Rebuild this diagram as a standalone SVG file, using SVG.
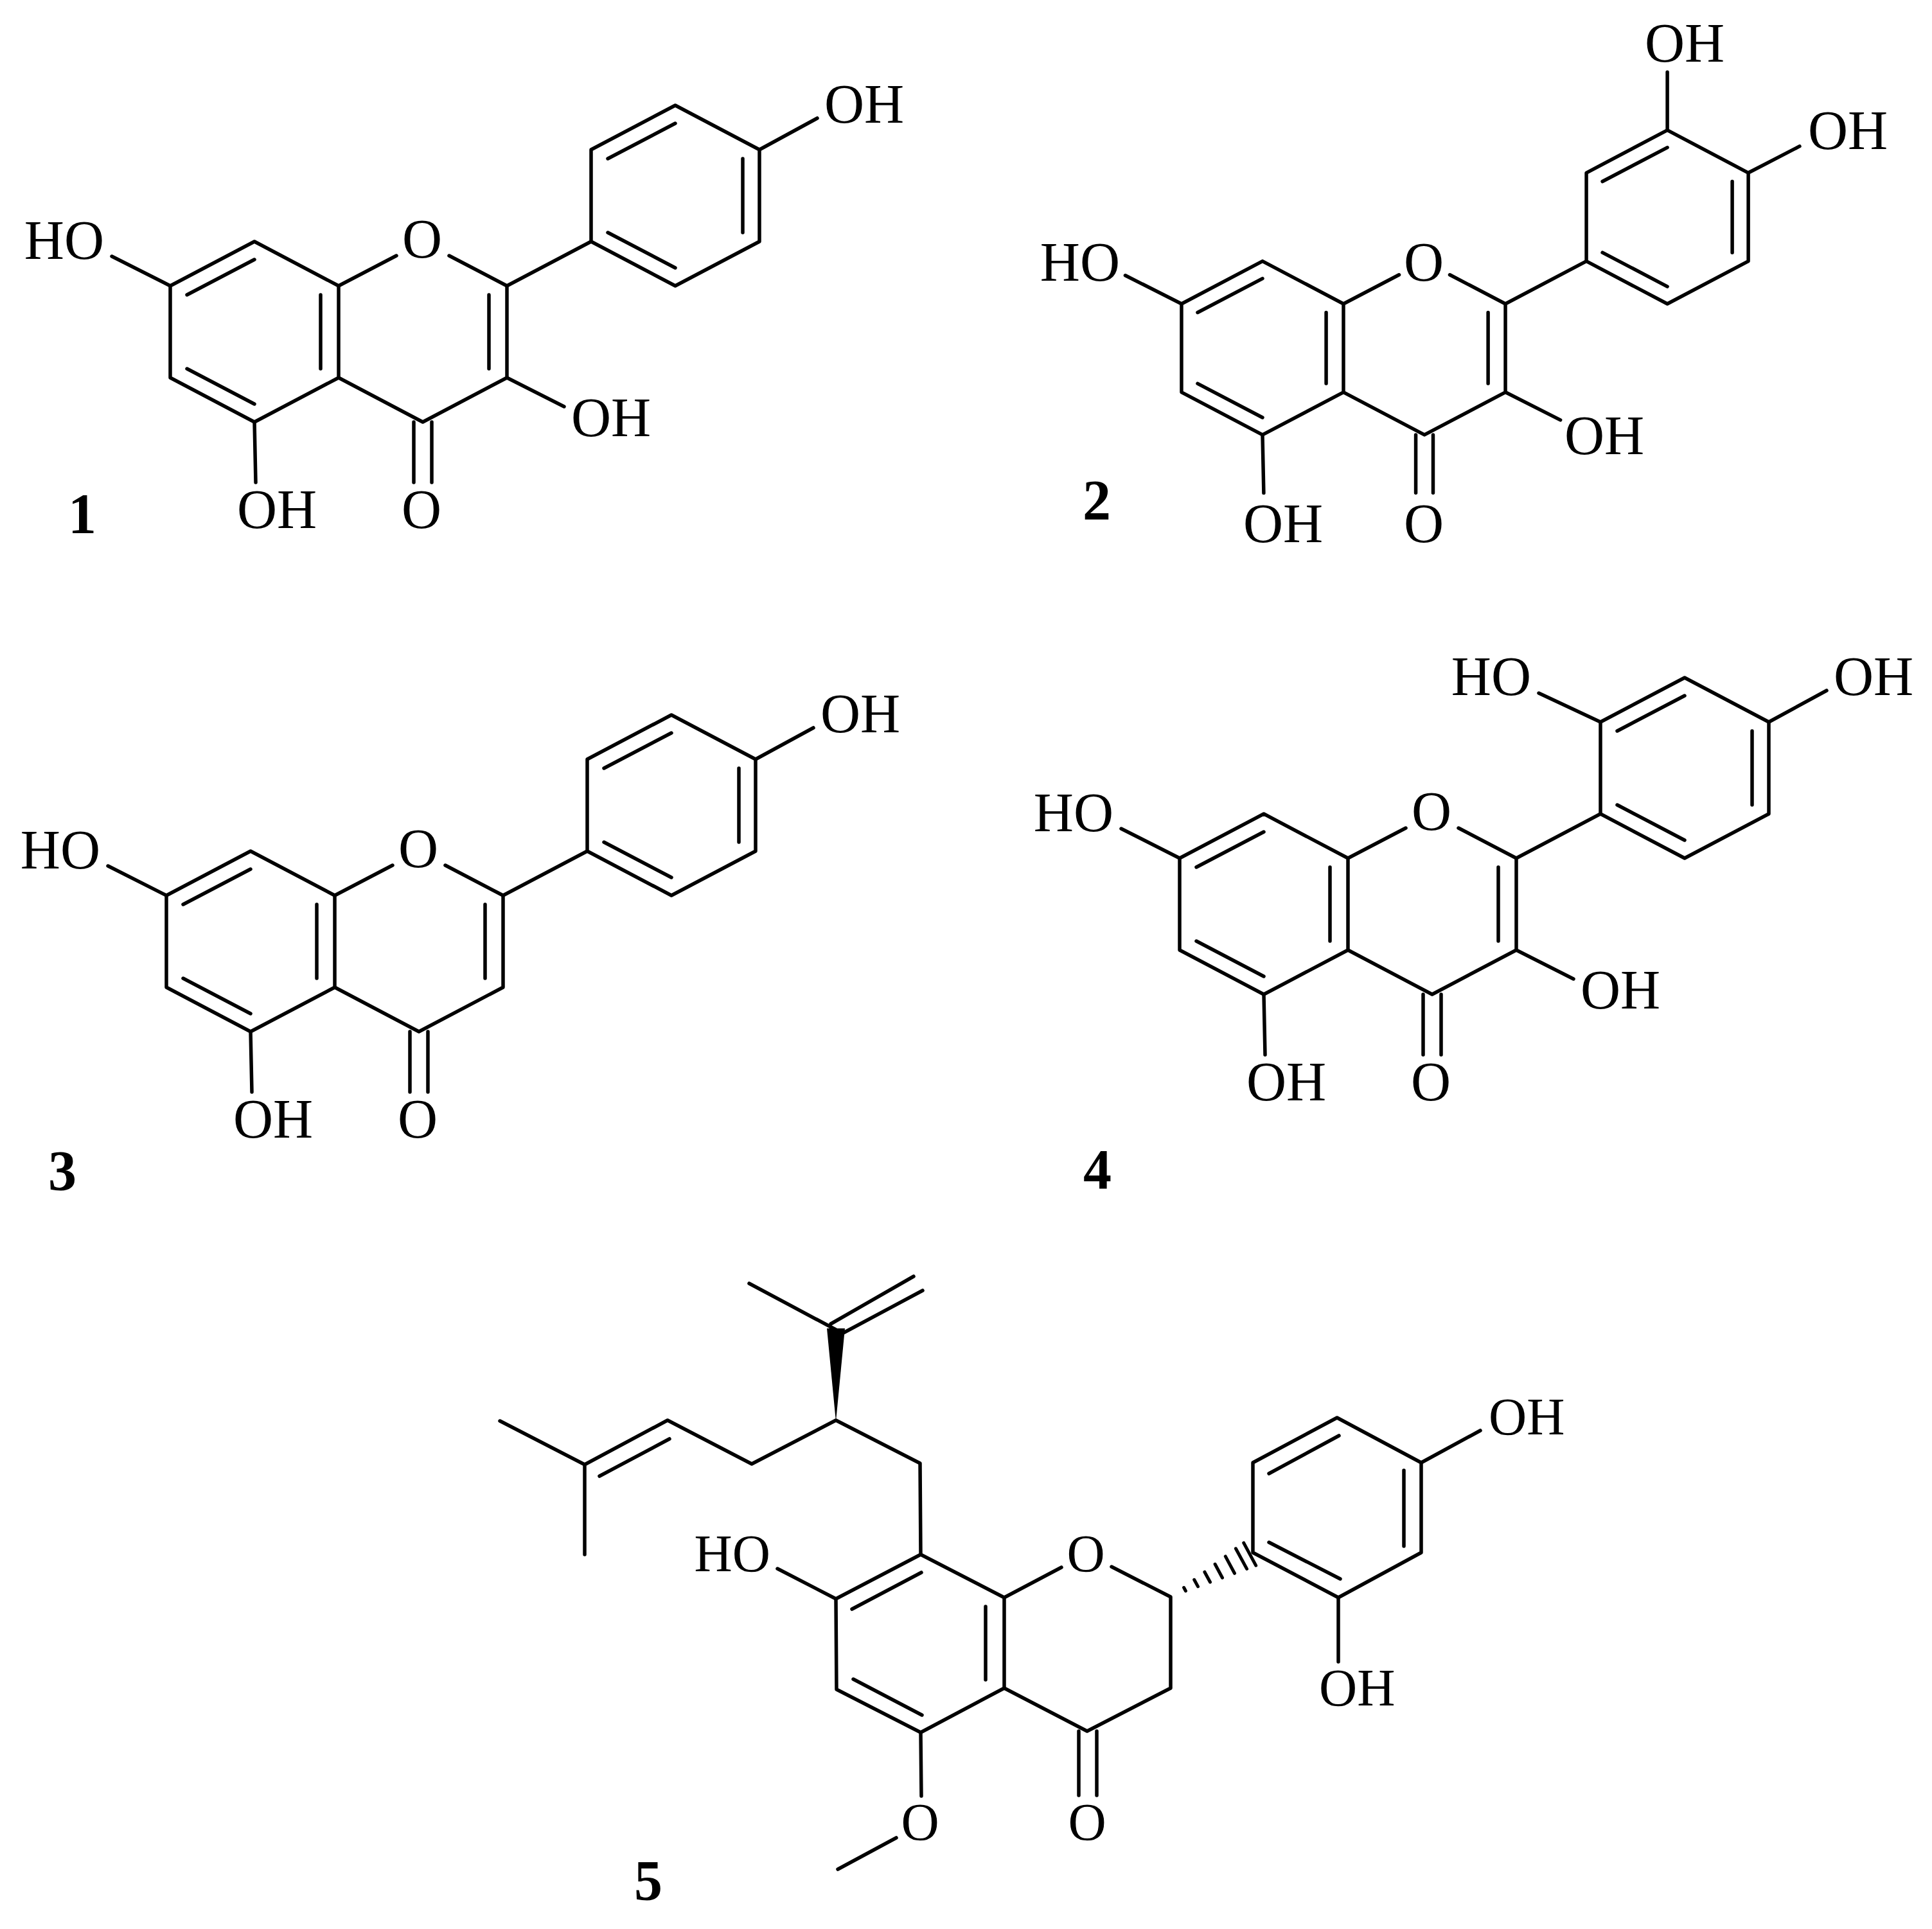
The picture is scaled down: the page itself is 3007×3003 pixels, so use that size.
<svg xmlns="http://www.w3.org/2000/svg" xmlns:xlink="http://www.w3.org/1999/xlink" width="3007" height="3003" viewBox="0 0 3007 3003">
<style>
.b{stroke:#000;stroke-width:5.5;fill:none;stroke-linecap:round;stroke-linejoin:round}
.t{font-family:"Liberation Serif","Times New Roman",serif;font-size:86px;fill:#000}
.t5{font-family:"Liberation Serif","Times New Roman",serif;font-size:82px;fill:#000}
.n{font-family:"Liberation Serif","Times New Roman",serif;font-size:88px;font-weight:bold;fill:#000;text-anchor:middle}
.m{text-anchor:middle}.e{text-anchor:end}
</style>
<defs>
<g id="core">
<path d="M0,0 L-131,-69 L-262,0 L-262,143 L-131,212 L0,143 Z"/>
<path d="M0,143 L131,212 L262,143 L262,0 L393,-69"/>
<path d="M0,0 L90,-47 M172,-47 L262,0"/>
<path d="M393,-69 L393,-212 L524,-281 L655,-212 L655,-69 L524,0 Z"/>
<path d="M-236,14 L-131,-41 M-28,14 L-28,129 M-236,129 L-131,184 M234,14 L234,129 M419,-198 L524,-253 M629,-198 L629,-83 M524,-28 L419,-83"/>
<path d="M117,212 L117,306 M145,212 L145,306 M-131,212 L-129,306 M-262,0 L-353,-46"/>
</g>
</defs>
<rect width="3007" height="3003" fill="#fff"/>

<g id="mol1">
<g class="b" transform="translate(527,445)">
<use xlink:href="#core" href="#core"/>
<path d="M262,143 L351,188 M655,-212 L745,-261"/>
</g>
<g class="t" transform="translate(527,445)">
<text x="-365" y="-42" class="e">HO</text>
<text x="130" y="-44" class="m">O</text>
<text x="-158" y="377">OH</text>
<text x="129" y="377" class="m">O</text>
<text x="362" y="234">OH</text>
<text x="756" y="-254">OH</text>
</g>
<text x="128" y="829" class="n">1</text>
</g>

<g id="mol2">
<g class="b" transform="translate(2091,473) scale(0.962)" style="stroke-width:5.7">
<use xlink:href="#core" href="#core"/>
<path d="M262,143 L351,188 M524,-281 L524,-375 M655,-212 L738,-255"/>
</g>
<g class="t">
<text x="1743" y="437" class="e">HO</text>
<text x="2216" y="437" class="m">O</text>
<text x="1935" y="844">OH</text>
<text x="2216" y="844" class="m">O</text>
<text x="2435" y="707">OH</text>
<text x="2560" y="96">OH</text>
<text x="2814" y="232">OH</text>
</g>
<text x="1707" y="808" class="n">2</text>
</g>

<g id="mol3">
<g class="b" transform="translate(521,1394)">
<use xlink:href="#core" href="#core"/>
<path d="M655,-212 L745,-261"/>
</g>
<g class="t" transform="translate(521,1394)">
<text x="-365" y="-42" class="e">HO</text>
<text x="130" y="-44" class="m">O</text>
<text x="-158" y="377">OH</text>
<text x="129" y="377" class="m">O</text>
<text x="756" y="-254">OH</text>
</g>
<text x="97" y="1852" class="n">3</text>
</g>

<g id="mol4">
<g class="b" transform="translate(2098,1336)">
<use xlink:href="#core" href="#core"/>
<path d="M262,143 L351,188 M655,-212 L745,-261 M393,-212 L297,-257"/>
</g>
<g class="t" transform="translate(2098,1336)">
<text x="-365" y="-42" class="e">HO</text>
<text x="130" y="-44" class="m">O</text>
<text x="-158" y="377">OH</text>
<text x="129" y="377" class="m">O</text>
<text x="362" y="234">OH</text>
<text x="756" y="-254">OH</text>
<text x="285" y="-254" class="e">HO</text>
</g>
<text x="1708" y="1850" class="n">4</text>
</g>

<g id="mol5">
<g class="b">
<path d="M1563,2487 L1433,2420 L1301,2489 L1302,2630 L1433,2697 L1563,2628 Z"/>
<path d="M1326,2505 L1434,2448 M1534,2501 L1534,2615 M1328,2614 L1435,2670"/>
<path d="M1563,2487 L1652,2440 M1730,2439 L1822,2486 L1822,2628 L1692,2695 L1563,2628"/>
<path d="M1679,2695 L1679,2795 M1707,2695 L1707,2795"/>
<path d="M1433,2697 L1434,2796 M1395,2861 L1304,2910"/>
<path d="M1301,2489 L1210,2442"/>
<path d="M1433,2420 L1432,2278 L1301,2211 L1170,2279 L1039,2211 L910,2280 L778,2212 M910,2280 L910,2420 M1042,2240 L933,2298"/>
<path d="M1301,2070 L1166,1998 M1293,2061 L1422,1987 M1307,2078 L1436,2009"/>
<path d="M1950,2417 L2083,2487 L2212,2417 L2212,2277 L2081,2207 L1950,2277 Z"/>
<path d="M1975,2294 L2084,2235 M2185,2289 L2185,2407 M1975,2401 L2086,2458"/>
<path d="M2212,2277 L2304,2227 M2083,2487 L2083,2587"/>
<path style="stroke-width:5" d="M1842.6,2471.5 L1845.4,2476.7 M1858.7,2459.3 L1864.5,2469.9 M1874.9,2447.2 L1883.5,2463 M1891.1,2435 L1902.5,2456.2 M1907.3,2422.9 L1921.5,2449.3 M1923.4,2410.8 L1940.6,2442.4 M1935.7,2401.9 L1954.7,2437.1"/>
</g>
<polygon points="1301,2213 1287,2068 1315,2068" fill="#000"/>
<g class="t5">
<text x="1199" y="2446" class="e">HO</text>
<text x="1690" y="2446" class="m">O</text>
<text x="1692" y="2864" class="m">O</text>
<text x="1432" y="2864" class="m">O</text>
<text x="2317" y="2233">OH</text>
<text x="2053" y="2655">OH</text>
</g>
<text x="1009" y="2957" class="n">5</text>
</g>
</svg>
